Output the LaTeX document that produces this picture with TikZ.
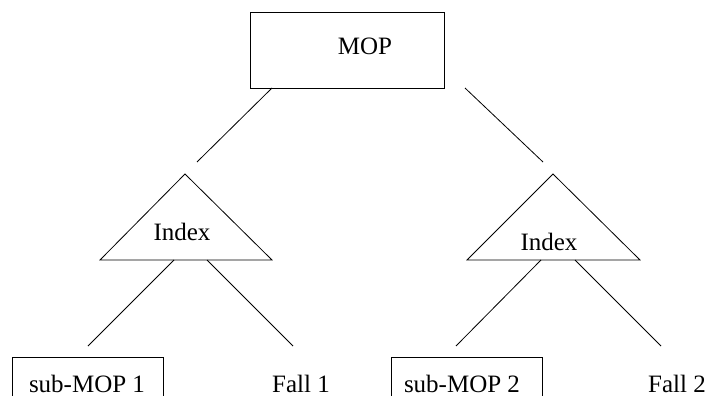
\documentclass[tikz,border=0pt]{standalone}
\usepackage{fontspec}
\setmainfont{Liberation Serif}
\begin{document}
\begin{tikzpicture}[x=1pt,y=-1pt,line width=0.8pt,
  lbl/.style={inner sep=0pt,anchor=base,font=\fontsize{25}{30}\selectfont},
  box/.style={draw,inner sep=0pt,anchor=north west},
  edge/.style={draw}]
\useasboundingbox (0,0) rectangle (710,396);
\clip (0,0) rectangle (710,396);

% root box
\node[box,minimum width=194pt,minimum height=76pt] (mopbox) at (250,12) {};
\node[lbl] (mop) at (365,55) {MOP};

% index triangles
\coordinate (t1a) at (185,174);
\coordinate (t1l) at (100,260);
\coordinate (t1r) at (272,260);
\draw (t1l) -- (t1a) -- (t1r) -- cycle;
\node[lbl] (idx1) at (182,240) {Index};

\coordinate (t2a) at (553,174);
\coordinate (t2l) at (467,260);
\coordinate (t2r) at (640,260);
\draw (t2l) -- (t2a) -- (t2r) -- cycle;
\node[lbl] (idx2) at (549,250) {Index};

% leaves
\node[box,minimum width=151pt,minimum height=60pt] (sub1) at (12,357) {};
\node[lbl] (sub1t) at (87,392) {sub-MOP 1};
\node[lbl] (fall1) at (301,392) {Fall 1};
\node[box,minimum width=151pt,minimum height=60pt] (sub2) at (391,357) {};
\node[lbl] (sub2t) at (462,392) {sub-MOP 2};
\node[lbl] (fall2) at (677,392) {Fall 2};

% connector ends
\coordinate (r1a) at (272,88);  \coordinate (r1b) at (197,162);
\coordinate (r2a) at (465,88);  \coordinate (r2b) at (543,162);
\coordinate (a1a) at (174,260); \coordinate (a1b) at (88,346);
\coordinate (a2a) at (207,260); \coordinate (a2b) at (293,346);
\coordinate (b1a) at (541,260); \coordinate (b1b) at (456,346);
\coordinate (b2a) at (575,260); \coordinate (b2b) at (661,346);

\draw[edge] (r1a) -- (r1b);
\draw[edge] (r2a) -- (r2b);
\draw[edge] (a1a) -- (a1b);
\draw[edge] (a2a) -- (a2b);
\draw[edge] (b1a) -- (b1b);
\draw[edge] (b2a) -- (b2b);
\end{tikzpicture}
\end{document}
